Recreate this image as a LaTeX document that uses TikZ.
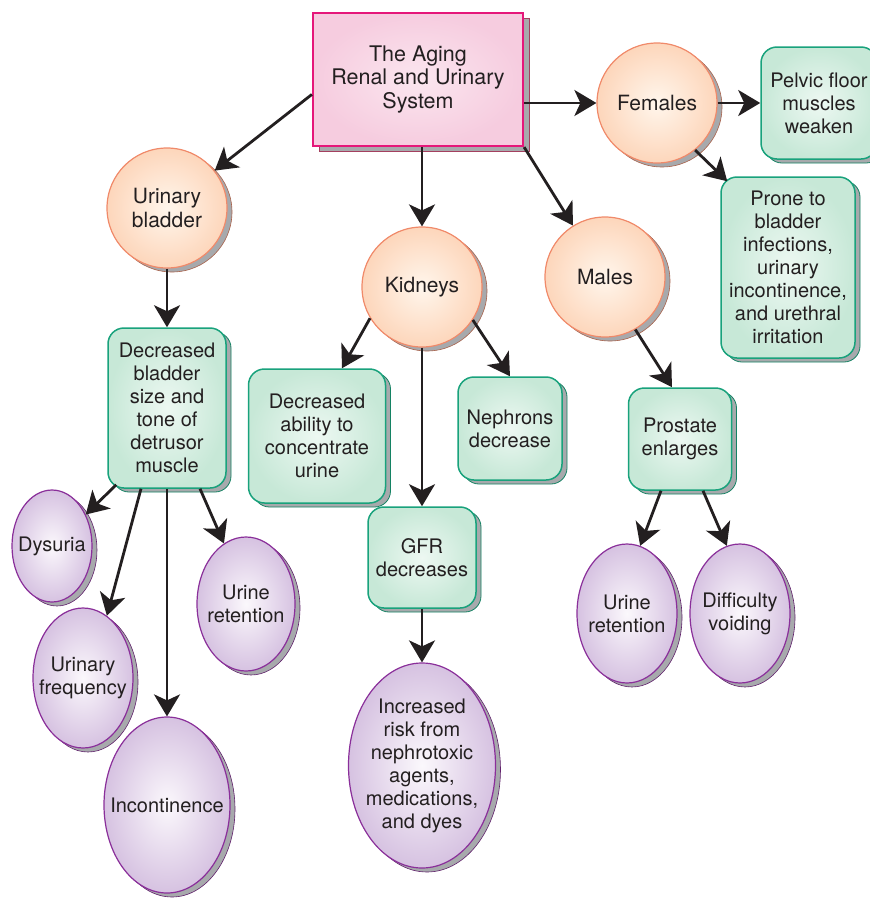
\documentclass[tikz,border=0pt]{standalone}
\usepackage{fontspec}
\setmainfont{TeX Gyre Heros}
\usetikzlibrary{arrows.meta, calc, shapes.geometric, shadows}
\definecolor{ink}{HTML}{231F20}
\definecolor{shadowgray}{HTML}{A7A9AC}
\definecolor{headline}{HTML}{E5177A}
\definecolor{headshadow}{HTML}{A4405F}
\definecolor{headin}{HTML}{FBE6EF}
\definecolor{headout}{HTML}{F6CCDF}
\definecolor{topicline}{HTML}{F08A6A}
\definecolor{topicin}{HTML}{FFF6EC}
\definecolor{topicout}{HTML}{FDD6BB}
\definecolor{factline}{HTML}{19A27C}
\definecolor{factin}{HTML}{EDF8F2}
\definecolor{factout}{HTML}{C7E8D7}
\definecolor{effectline}{HTML}{8A2F9A}
\definecolor{effectin}{HTML}{FBF8FC}
\definecolor{effectout}{HTML}{D6C2E1}

\begin{document}
\begin{tikzpicture}[
        x=1pt, y=-1pt,
        every node/.style={font=\fontsize{20}{23}\selectfont, text=ink, align=center, inner sep=0pt},
        head/.style={rectangle, draw=headline, line width=2.2pt, inner color=headin, outer color=headout,
            minimum width=210pt, minimum height=133pt, font=\fontsize{21.5}{23.5}\selectfont,
            drop shadow={shadow xshift=6pt, shadow yshift=-5pt, fill=shadowgray, draw=headshadow, line width=1pt, opacity=1}},
        topic/.style={circle, draw=topicline, line width=1.2pt, inner color=topicin, outer color=topicout,
            minimum size=120pt, font=\fontsize{21}{24}\selectfont,
            drop shadow={shadow xshift=5pt, shadow yshift=-4pt, fill=shadowgray, draw=topicline!70!black, line width=.6pt, opacity=1}},
        fact/.style={rectangle, rounded corners=16pt, draw=factline, line width=1.5pt, inner color=factin, outer color=factout,
            drop shadow={shadow xshift=5pt, shadow yshift=-4pt, fill=shadowgray, draw=factline!80!black, line width=.8pt, opacity=1}},
        effect/.style={ellipse, inner sep=-20pt, draw=effectline, line width=1.2pt, inner color=effectin, outer color=effectout,
            drop shadow={shadow xshift=5pt, shadow yshift=-4pt, fill=shadowgray, draw=effectline!70!black, line width=.6pt, opacity=1}},
        arrow/.style={-{Stealth[length=22pt, width=26pt, inset=6pt]}, line width=2.8pt, draw=ink},
    ]
    \useasboundingbox (0,0) rectangle (870,898);
    \node[head] (title) at (418,79.5) {The Aging\\Renal and Urinary\\System};
    \node[topic] (females) at (657,103) {Females};
    \node[fact, minimum width=116pt, minimum height=112pt] (pelvic) at (819,103) {Pelvic floor\\muscles\\weaken};
    \node[fact, minimum width=134pt, minimum height=181pt] (prone) at (788,267.5) {Prone to\\bladder\\infections,\\urinary\\incontinence,\\and urethral\\irritation};
    \node[topic] (bladder) at (167,208) {Urinary\\bladder};
    \node[topic] (kidneys) at (422,287) {Kidneys};
    \node[topic] (males) at (605,277) {Males};
    \node[fact, minimum width=118pt, minimum height=160pt] (bladdertone) at (167,408) {Decreased\\bladder\\size and\\tone of\\detrusor\\muscle};
    \node[fact, minimum width=137pt, minimum height=134pt] (concentrate) at (317,436) {Decreased\\ability to\\concentrate\\urine};
    \node[fact, minimum width=104pt, minimum height=103pt] (nephrons) at (510,428.5) {Nephrons\\decrease};
    \node[fact, minimum width=108pt, minimum height=101pt] (gfr) at (422,557.5) {GFR\\decreases};
    \node[fact, minimum width=103pt, minimum height=102pt] (prostate) at (680,439) {Prostate\\enlarges};
    \node[effect, minimum width=80pt, minimum height=112pt] (dysuria) at (52,546) {Dysuria};
    \node[effect, minimum width=98pt, minimum height=134pt] (retentionA) at (246,604) {Urine\\retention};
    \node[effect, minimum width=100pt, minimum height=140pt] (frequency) at (83,678) {Urinary\\frequency};
    \node[effect, minimum width=126pt, minimum height=176pt] (incont) at (167,805) {Incontinence};
    \node[effect, minimum width=147pt, minimum height=205pt] (risk) at (422,765.5) {Increased\\risk from\\nephrotoxic\\agents,\\medications,\\and dyes};
    \node[effect, minimum width=100pt, minimum height=139pt] (retentionB) at (627,613.5) {Urine\\retention};
    \node[effect, minimum width=100pt, minimum height=139pt] (voiding) at (740,613.5) {Difficulty\\voiding};
    \draw[arrow] (title.188) -- (bladder);
    \draw[arrow] (title.south -| kidneys) -- (kidneys);
    \draw[arrow] (title.south east) -- (males);
    \draw[arrow] (title.east |- females) -- (females);
    \draw[arrow] (females) -- (pelvic);
    \draw[arrow] (females.-51) -- ($(prone.north west)+(7,5)$);
    \draw[arrow] (bladder) -- (bladdertone);
    \draw[arrow] ($(bladdertone.south west)+(9,-4)$) -- (dysuria.43);
    \draw[arrow] ($(bladdertone.south)+(-26,0)$) -- (frequency.69);
    \draw[arrow] (bladdertone) -- (incont);
    \draw[arrow] ($(bladdertone.south)+(33,0)$) -- (retentionA.110);
    \draw[arrow] (kidneys.211) -- ($(concentrate.north)+(25,0)$);
    \draw[arrow] (kidneys.-33) -- (nephrons.north);
    \draw[arrow] (kidneys) -- (gfr);
    \draw[arrow] (gfr) -- (risk);
    \draw[arrow] (males.-60) -- ($(prostate.north)+(-8,0)$);
    \draw[arrow] ($(prostate.south)+(-19,0)$) -- (retentionB.79);
    \draw[arrow] ($(prostate.south)+(23,0)$) -- (voiding.101);
    \end{tikzpicture}
\end{document}
